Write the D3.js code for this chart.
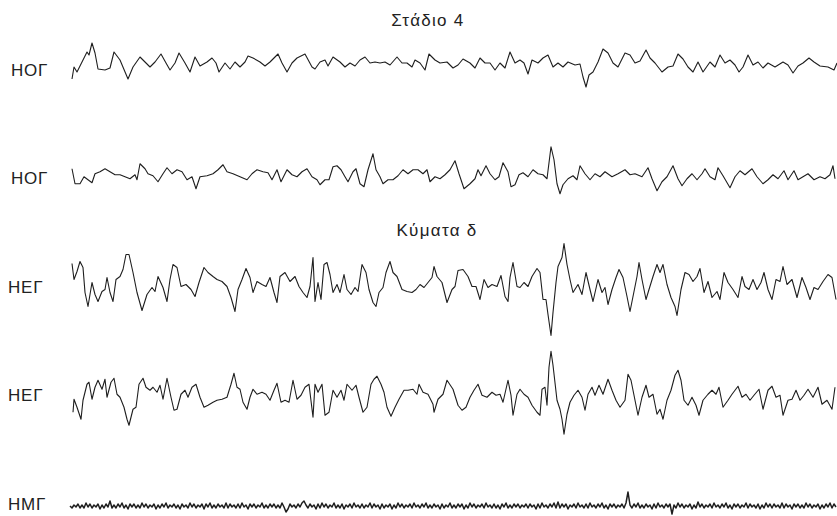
<!DOCTYPE html>
<html>
<head>
<meta charset="utf-8">
<script src="https://cdn.jsdelivr.net/npm/d3@7"></script>
<style>
  body { margin: 0; background: #fff; }
  text { font-family: "Liberation Sans", Arial, sans-serif; fill: #222; }
</style>
</head>
<body>
<script>
// channel names, top to bottom
var channels = ["hog1", "hog2", "heg1", "heg2", "hmg"];
var channelLabels = ["ΗΟΓ", "ΗΟΓ", "ΗΕΓ", "ΗΕΓ", "ΗΜΓ"];
var titles = ["Στάδιο 4", "Κύματα δ"];

// traces as [time, amplitude]
var hog1 = [[2,-16],[4,-4],[7,-9],[12,1],[17,11],[19,8],[22,20],[25,10],[28,-6],[35,-7],[40,-5],[44,11],[50,3],[58,-16],
  [63,-4],[70,6],[75,1],[80,-4],[85,1],[91,9],[96,0],[100,-7],[105,0],[109,10],[115,0],[120,-9],[125,6],[130,-3],[137,1],
  [142,5],[146,0],[149,-9],[155,0],[160,-6],[165,1],[170,-4],[175,1],[178,7],[183,5],[190,1],[195,-3],[200,1],[208,9],
  [212,0],[217,-9],[222,0],[227,5],[235,9],[242,-4],[245,-6],[250,1],[255,3],[258,-3],[263,6],[270,1],[275,-4],[280,0],
  [285,-3],[290,3],[295,6],[300,0],[305,1],[310,0],[315,1],[320,-2],[327,6],[332,0],[337,0],[342,-4],[345,3],[350,0],
  [355,-7],[359,9],[365,3],[370,0],[377,1],[383,-5],[388,-2],[393,4],[400,0],[405,-5],[410,5],[415,0],[420,0],[425,-7],
  [430,0],[435,-5],[440,11],[445,0],[450,3],[454,0],[458,-11],[462,3],[468,0],[473,5],[478,8],[483,-4],[488,0],[493,-4],
  [498,1],[505,-2],[510,-1],[513,-14],[516,-24],[519,-12],[523,-9],[528,1],[533,14],[538,10],[543,0],[548,-4],[555,10],
  [560,8],[565,0],[570,2],[576,13],[580,5],[585,0],[592,-9],[598,-4],[603,-3],[608,9],[613,4],[618,-4],[623,-9],[628,1],
  [633,-9],[640,1],[645,-4],[650,8],[655,0],[660,3],[665,-2],[669,-9],[673,-4],[678,8],[683,-2],[688,1],[693,-5],[698,0],
  [705,-4],[713,1],[718,-2],[723,-10],[728,-3],[733,0],[739,5],[744,1],[750,-3],[758,-4],[764,-7],[767,0]];

var hog2 = [[2,5],[5,-10],[10,-10],[14,-3],[18,-6],[22,-9],[25,0],[30,2],[35,5],[40,2],[45,-1],[50,-1],[55,-3],[60,-5],
  [65,-1],[67,-6],[70,10],[75,5],[78,0],[83,-2],[88,-8],[93,0],[97,6],[102,0],[107,4],[112,2],[117,-6],[122,-3],[126,-15],
  [130,-3],[137,-2],[143,0],[148,4],[153,9],[157,2],[163,0],[170,-3],[177,-6],[182,0],[187,4],[193,2],[198,1],[202,-6],
  [207,4],[211,-8],[217,4],[222,-1],[227,-3],[232,2],[237,5],[242,-3],[247,-6],[250,-11],[255,-6],[259,-6],[263,7],[267,8],
  [271,4],[275,-3],[278,-8],[283,2],[286,5],[290,-10],[294,-13],[298,4],[303,20],[306,4],[310,-3],[313,-10],[318,-6],
  [323,-6],[328,-2],[333,4],[338,0],[343,4],[348,4],[353,0],[357,4],[360,-8],[365,-3],[370,-5],[375,-1],[380,4],[385,13],
  [389,0],[394,-15],[400,-10],[405,-5],[408,4],[411,-2],[416,8],[420,0],[425,-6],[429,-3],[433,11],[438,2],[441,-13],
  [445,-11],[449,-1],[453,1],[458,-3],[463,4],[468,0],[473,-1],[477,-5],[481,27],[484,14],[487,-10],[490,-20],[493,-11],
  [498,-5],[503,-2],[507,-6],[510,8],[515,0],[520,-6],[525,0],[530,-3],[535,2],[542,-3],[548,0],[555,4],[560,-1],[565,0],
  [572,-3],[578,6],[582,-5],[587,-17],[592,-8],[597,-3],[603,8],[608,-5],[612,-12],[617,-5],[622,0],[627,-6],[632,0],
  [635,5],[640,-3],[645,-6],[648,6],[653,-2],[660,-14],[665,-3],[670,3],[675,-1],[682,5],[687,-3],[693,-10],[698,-6],
  [703,-1],[708,-5],[714,3],[718,-6],[724,3],[728,-6],[733,-3],[738,0],[744,-6],[750,-3],[755,-5],[760,-1],[763,8],[765,-5]];

var heg1 = [[2,21],[4,5],[7,13],[10,23],[13,17],[15,-8],[18,-22],[22,2],[25,-10],[28,-17],[32,-7],[35,-5],[37,7],[40,-8],
  [43,-17],[46,5],[50,8],[53,15],[56,30],[59,30],[63,12],[67,-8],[72,-26],[77,-10],[82,-3],[85,-7],[88,8],[93,-3],[97,-17],
  [100,5],[103,20],[107,17],[111,-2],[116,0],[121,-5],[125,-12],[129,2],[134,17],[138,12],[143,8],[147,5],[152,3],[157,-2],
  [161,-13],[165,-27],[168,-5],[172,5],[176,16],[180,7],[183,-8],[187,3],[192,0],[196,-2],[200,7],[204,-8],[207,-18],
  [210,8],[215,12],[220,3],[225,8],[229,-2],[233,-8],[237,-13],[240,-2],[243,27],[245,-17],[248,2],[251,-15],[254,20],
  [257,22],[260,10],[263,-8],[267,0],[270,-8],[274,10],[277,-5],[281,-10],[285,-3],[288,-7],[292,20],[296,12],[299,-5],
  [303,-18],[306,-22],[309,-8],[313,-3],[316,12],[320,23],[323,12],[327,8],[332,-5],[337,-7],[342,-8],[346,-5],[350,0],
  [354,-3],[358,2],[362,7],[364,18],[367,8],[372,2],[377,-18],[382,-5],[385,-2],[388,14],[393,15],[398,8],[402,-2],
  [406,-2],[410,-15],[414,5],[418,-3],[422,0],[427,-2],[431,9],[435,-12],[438,-17],[440,7],[443,22],[447,-2],[450,-3],
  [454,2],[458,-2],[462,8],[467,16],[470,12],[473,-15],[476,-15],[478,-30],[481,-51],[483,-28],[486,2],[488,18],[492,27],
  [494,41],[497,20],[500,5],[503,-8],[508,0],[512,-10],[516,12],[520,-5],[523,-17],[528,5],[532,-8],[535,-3],[538,-20],
  [542,-5],[546,7],[549,15],[553,7],[557,-12],[560,-27],[563,-12],[567,8],[569,22],[572,5],[576,-15],[579,-5],[583,8],
  [587,20],[590,12],[593,20],[597,0],[601,-13],[605,-22],[607,-31],[611,-5],[615,12],[619,10],[623,3],[627,8],[630,16],
  [634,-8],[638,3],[642,-13],[647,-7],[650,-15],[654,12],[658,2],[663,-5],[668,-13],[672,8],[675,-2],[679,-5],[683,5],
  [687,-5],[691,2],[694,12],[698,-5],[702,-15],[706,5],[710,3],[713,18],[717,0],[722,5],[727,-13],[732,7],[736,-3],
  [740,-15],[744,-3],[748,-5],[753,3],[758,10],[762,7],[766,-15]];

var heg2 = [[3,-17],[4,-4],[7,-12],[11,-24],[13,-5],[17,11],[19,13],[22,-4],[25,8],[28,15],[32,6],[35,16],[37,-2],[41,13],
  [44,17],[47,1],[50,-2],[54,-12],[57,-24],[59,-30],[63,-14],[66,-12],[69,11],[73,17],[76,8],[80,5],[83,8],[87,3],[90,10],
  [93,-4],[97,17],[101,-2],[104,-15],[107,-14],[111,1],[115,5],[118,-2],[122,8],[126,11],[130,-2],[134,-12],[138,-10],
  [143,-7],[147,-5],[152,-4],[157,-2],[161,11],[164,22],[167,8],[170,6],[173,-7],[177,-14],[180,-2],[183,6],[187,1],
  [192,3],[196,1],[200,-5],[204,5],[207,12],[211,-7],[215,-5],[219,-7],[223,15],[227,-4],[231,0],[235,8],[239,11],
  [243,-22],[245,11],[248,3],[252,11],[255,-20],[259,-17],[263,5],[267,-2],[271,5],[274,-5],[277,11],[282,5],[286,10],
  [289,-2],[293,-17],[297,-12],[301,11],[304,16],[307,19],[311,11],[314,3],[317,-12],[321,-21],[325,-12],[329,-4],[334,5],
  [338,5],[343,6],[347,1],[349,11],[353,3],[358,1],[363,-9],[364,-17],[368,-4],[373,1],[377,15],[383,6],[388,-10],
  [392,-15],[396,-12],[400,-2],[404,5],[408,11],[412,0],[417,-2],[422,3],[426,0],[430,1],[433,-7],[438,15],[441,0],
  [443,-20],[447,1],[450,6],[454,1],[458,-2],[462,-10],[467,-17],[470,-20],[472,6],[475,8],[477,-10],[479,28],[481,44],
  [483,30],[487,-5],[490,-14],[492,-24],[494,-39],[497,-19],[500,-7],[504,0],[508,5],[512,-2],[515,-15],[518,1],[522,8],
  [525,0],[529,10],[533,1],[538,16],[542,5],[546,-5],[550,-12],[555,-5],[558,21],[561,15],[564,0],[568,-20],[572,-2],
  [576,10],[579,-2],[583,1],[587,-19],[590,-14],[593,-24],[597,-5],[601,5],[605,20],[608,25],[611,15],[614,-5],[618,-10],
  [622,-2],[626,-10],[629,-20],[633,-5],[638,1],[642,5],[646,1],[649,8],[653,-12],[658,-5],[662,1],[668,9],[672,-2],
  [676,1],[680,-5],[684,0],[689,6],[693,-14],[698,5],[702,9],[706,-2],[710,0],[713,-20],[718,-5],[722,-4],[726,5],
  [730,-5],[734,0],[738,6],[743,-2],[748,8],[752,-9],[757,-5],[762,-14],[765,8]];

// EMG sampled every 2 time units
var hmgStep = 2;
var hmgValues = [
  0,-2,1,-1,2,-2,1,-2,3,-1,2,-2,1,-1,2,-3,
  1,-2,2,-1,5,-2,1,-2,2,-1,3,-2,1,-3,2,-1,
  2,-2,1,-2,3,-1,2,-2,1,-1,2,-3,1,-2,2,-1,
  3,-2,1,-1,2,-2,1,-3,2,-1,1,-2,3,-1,2,-2,
  1,-1,2,-3,2,-1,3,-2,1,-2,2,-1,1,-2,3,-2,
  2,-1,1,-2,2,-2,3,-1,1,-3,2,-1,2,-2,1,-1,
  3,-2,1,-2,2,-1,2,-2,1,-2,3,-1,-6,-3,2,-1,
  1,-2,2,-1,3,5,1,-2,2,-1,1,-3,2,-2,3,-1,
  2,-2,1,-1,3,-2,1,-2,2,-3,1,-1,2,-2,3,-1,
  1,-2,2,-2,1,-1,3,-2,2,-1,1,-3,2,-2,1,-1,
  2,-3,1,-2,3,-1,2,-2,1,-1,2,-2,3,-1,1,-2,
  2,-1,3,-2,1,-2,2,-1,1,-3,2,-2,1,-1,3,-2,
  1,-2,2,-1,2,-3,1,-2,3,-1,2,-2,1,-1,2,-2,
  3,-1,1,-2,2,-2,1,-3,2,-1,3,-2,1,-2,2,-1,
  2,-2,1,-1,2,-2,2,-1,1,-3,2,-2,3,-1,1,-2,
  2,-1,3,-2,4,-2,2,-1,2,-3,1,-1,2,-2,3,-1,
  1,-2,2,-2,3,-1,1,-2,2,-1,3,-2,1,-3,2,-1,
  2,-2,1,-1,2,-2,3,14,1,-2,2,-1,3,-2,1,-2,
  2,-1,1,-3,2,-2,3,-1,1,-2,2,-1,2,-8,1,-2,
  3,-1,2,-2,1,-1,2,-3,1,-2,4,-1,2,-2,1,-1,
  2,-2,3,-1,1,-2,2,-1,3,-2,1,-3,2,-1,2,-2,
  1,-1,3,-2,2,-1,1,-2,2,-3,1,-2,3,-1,2,-2,
  2,-1,1,-2,3,-2,2,-1,1,-3,2,-1,2,-2,1,-2,
  3,-1,2,-2,1,-1,2,-3,1,-2,2,-1,3,-2,2,-1
];
var hmg = hmgValues.map(function(v, i) { return [i * hmgStep, v]; });

var traces = { hog1: hog1, hog2: hog2, heg1: heg1, heg2: heg2, hmg: hmg };

var width = 837, height = 516;

var svg = d3.select("body").append("svg")
    .attr("width", width)
    .attr("height", height);

var x = d3.scaleLinear().domain([0, 767]).range([70, 837]);

// row centre for each channel
var row = d3.scalePoint().domain(channels).range([63, 506]);
var labelRow = d3.scalePoint().domain(channels).range([70, 504]);

channels.forEach(function(ch, i) {
    var y = d3.scaleLinear()
        .domain([-60, 60])
        .range([row(ch) + 60, row(ch) - 60]);

    var line = d3.line()
        .x(function(d) { return x(d[0]); })
        .y(function(d) { return y(d[1]); });

    svg.append("path")
        .datum(traces[ch])
        .attr("d", line)
        .attr("fill", "none")
        .attr("stroke", "#1e1e1e")
        .attr("stroke-width", ch == "hmg" ? 1.5 : 1.1)
        .attr("stroke-linejoin", "round");

    svg.append("text")
        .attr("x", i < 2 ? 11 : 8)
        .attr("y", labelRow(ch))
        .attr("dy", "0.35em")
        .style("font-size", "17px")
        .style("letter-spacing", "0.8px")
        .text(channelLabels[i]);
});

// section titles
svg.append("text")
    .attr("x", 428)
    .attr("y", 26)
    .attr("text-anchor", "middle")
    .style("font-size", "17px")
    .style("letter-spacing", "1.3px")
    .text(titles[0]);

svg.append("text")
    .attr("x", 437)
    .attr("y", 236)
    .attr("text-anchor", "middle")
    .style("font-size", "17px")
    .style("letter-spacing", "1.3px")
    .text(titles[1]);
</script>
</body>
</html>
